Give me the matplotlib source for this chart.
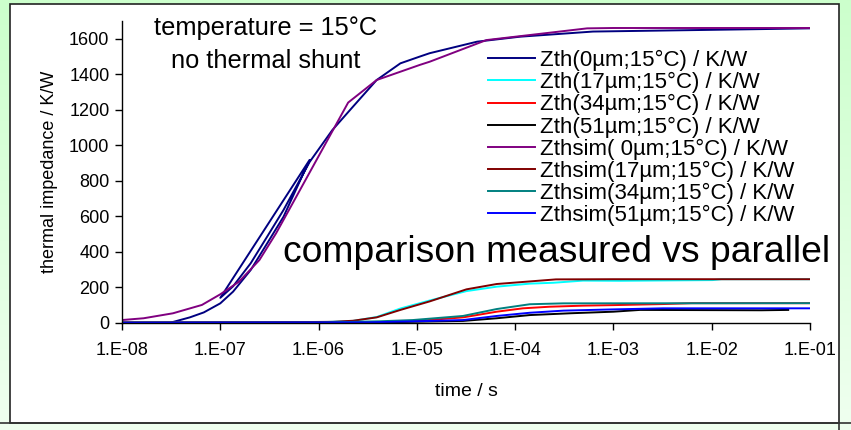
import numpy as np
import matplotlib
matplotlib.use("Agg")
import matplotlib.pyplot as plt
from matplotlib.patches import Rectangle
from matplotlib.lines import Line2D

plt.rcParams['font.family'] = ['Liberation Sans', 'DejaVu Sans']

W, H = 851, 430

# --- data (time in s, Zth in K/W) ---
zth0_t = [1e-8, 3.1e-8, 4.9e-8, 6.8e-8, 1e-7, 1.35e-7, 2.04e-7, 3.0e-7, 4.4e-7, 8.1e-7,
          1e-7, 1.35e-7, 2.04e-7, 3.0e-7, 4.4e-7, 8.1e-7, 1.38e-6, 2.24e-6, 3.9e-6, 6.8e-6,
          1.07e-5, 1.35e-5, 4.1e-5, 1.12e-4, 6.2e-4, 2.6e-2, 1e-1]
zth0_v = [0, 0, 30, 58, 109, 175, 297, 447, 597, 917,
          140, 205, 335, 485, 635, 905, 1085, 1217, 1367, 1461,
          1499, 1518, 1583, 1611, 1640, 1653, 1658]

zth17_t = [1e-8, 1e-6, 2.24e-6, 3.9e-6, 6.8e-6, 1.35e-5, 3.2e-5, 6.5e-5, 1.41e-4, 2.45e-4,
           4.9e-4, 1.17e-3, 1.02e-2, 1.26e-2, 1e-1]
zth17_v = [0, 2, 10, 32, 80, 125, 178, 203, 220, 225, 237, 236, 240, 245, 245]

zth34_t = [1e-8, 3.2e-6, 1e-5, 2.95e-5, 6.5e-5, 1.2e-4, 2.24e-4, 4.9e-4, 1e-3, 3.2e-3,
           6.3e-3, 1e-1]
zth34_v = [0, 2, 10, 30, 62, 81, 90, 96, 99, 105, 110, 110]

zth51_t = [1e-8, 3.2e-6, 2.95e-5, 6.5e-5, 1.41e-4, 3.6e-4, 1e-3, 1.86e-3, 3.2e-2, 6.0e-2]
zth51_v = [0, 1, 10, 25, 43, 53, 62, 72, 70, 72]

sim0_t = [1e-8, 1.66e-8, 3.3e-8, 6.5e-8, 1e-7, 1.55e-7, 2.5e-7, 3.7e-7, 5.0e-7, 2.0e-6,
          3.9e-6, 1.07e-5, 1.35e-5, 5.1e-5, 5.4e-4, 1e-3, 1e-2, 1e-1]
sim0_v = [15, 25, 53, 100, 160, 231, 353, 504, 635, 1240,
          1367, 1452, 1470, 1592, 1658, 1660, 1660, 1660]

sim17_t = [1e-8, 3.2e-7, 1.4e-6, 2.24e-6, 3.9e-6, 6.8e-6, 1.35e-5, 3.2e-5, 6.5e-5, 2.6e-4,
           1e-3, 1e-1]
sim17_v = [0, 2, 5, 11, 30, 72, 120, 188, 218, 244, 245, 245]

sim34_t = [1e-8, 1e-6, 4.2e-6, 9.1e-6, 2.95e-5, 6.5e-5, 1.41e-4, 3.1e-4, 1e-1]
sim34_v = [0, 1, 8, 15, 38, 77, 104, 109, 110]

sim51_t = [1e-8, 3.2e-6, 1e-5, 2.95e-5, 6.5e-5, 1.41e-4, 3.1e-4, 1e-3, 3.2e-3, 1e-1]
sim51_v = [0, 2, 8, 15, 38, 56, 68, 75, 81, 81]

series = [
    ("Zth(0µm;15°C) / K/W", zth0_t, zth0_v, "#000080"),
    ("Zth(17µm;15°C) / K/W", zth17_t, zth17_v, "#00FFFF"),
    ("Zth(34µm;15°C) / K/W", zth34_t, zth34_v, "#FF0000"),
    ("Zth(51µm;15°C) / K/W", zth51_t, zth51_v, "#000000"),
    ("Zthsim( 0µm;15°C) / K/W", sim0_t, sim0_v, "#800080"),
    ("Zthsim(17µm;15°C) / K/W", sim17_t, sim17_v, "#800000"),
    ("Zthsim(34µm;15°C) / K/W", sim34_t, sim34_v, "#008080"),
    ("Zthsim(51µm;15°C) / K/W", sim51_t, sim51_v, "#0000FF"),
]

xticks = [1e-8, 1e-7, 1e-6, 1e-5, 1e-4, 1e-3, 1e-2, 1e-1]
xticklabels = ["1.E-08", "1.E-07", "1.E-06", "1.E-05", "1.E-04", "1.E-03", "1.E-02", "1.E-01"]
yticks = [0, 200, 400, 600, 800, 1000, 1200, 1400, 1600]


def fx(px):
    return px / W


def fy(py):
    return 1 - py / H


fig = plt.figure(figsize=(W / 100, H / 100), dpi=100)

# green gradient background
bg = fig.add_axes([0, 0, 1, 1])
grad = np.linspace(0, 1, 256).reshape(-1, 1)
top = np.array([0.80, 1.0, 0.80])
bot = np.array([0.94, 1.0, 0.94])
img = top + (bot - top) * grad[:, :, None]
bg.imshow(img, aspect='auto', extent=[0, 1, 0, 1])
bg.set_axis_off()

# white plot box
fig.patches.append(Rectangle((fx(10), fy(422.5)), fx(829), (422.5 - 4) / H,
                             transform=fig.transFigure, facecolor='white',
                             edgecolor='#222222', linewidth=1.2, zorder=1))
fig.lines.append(Line2D([0, 1], [fy(422.5), fy(422.5)], transform=fig.transFigure,
                        color='#333333', linewidth=1.2, zorder=2))
fig.lines.append(Line2D([fx(839), fx(839)], [fy(422.5), 0], transform=fig.transFigure,
                        color='#333333', linewidth=1.2, zorder=2))

ax = fig.add_axes([fx(122), fy(322.7), fx(810 - 122), (322.7 - 20.9) / H])
ax.set_facecolor('none')
ax.set_zorder(3)

for label, t, v, c in series:
    ax.plot(t, v, color=c, linewidth=1.4, label=label)

ax.set_xscale('log')
ax.set_xlim(1e-8, 1e-1)
ax.set_ylim(0, 1700)
ax.set_xticks(xticks)
ax.set_xticklabels(xticklabels)
ax.xaxis.set_minor_locator(matplotlib.ticker.NullLocator())
ax.set_yticks(yticks)
ax.tick_params(axis='both', labelsize=13, length=5, width=1, direction='out', pad=4)
ax.tick_params(axis='x', pad=9)
for s in ['top', 'right']:
    ax.spines[s].set_visible(False)
for s in ['left', 'bottom']:
    ax.spines[s].set_linewidth(1)

ax.set_ylabel("thermal impedance / K/W", fontsize=13, labelpad=8)
ax.set_xlabel("time / s", fontsize=14, labelpad=17)

leg = ax.legend(loc='upper left', bbox_to_anchor=(fx(488), fy(50)),
                bbox_transform=fig.transFigure, frameon=False, fontsize=16,
                handlelength=2.1, handletextpad=0.25, labelspacing=0.045,
                borderpad=0, borderaxespad=0)

fig.text(fx(266), fy(35), "temperature = 15°C", fontsize=18.3, ha='center', va='baseline', zorder=5)
fig.text(fx(266), fy(68), "no thermal shunt", fontsize=18.3, ha='center', va='baseline', zorder=5)
fig.text(fx(283), fy(262), "comparison measured vs parallel", fontsize=26.8, ha='left', va='baseline', zorder=5)

fig.savefig("out.png", dpi=100)
